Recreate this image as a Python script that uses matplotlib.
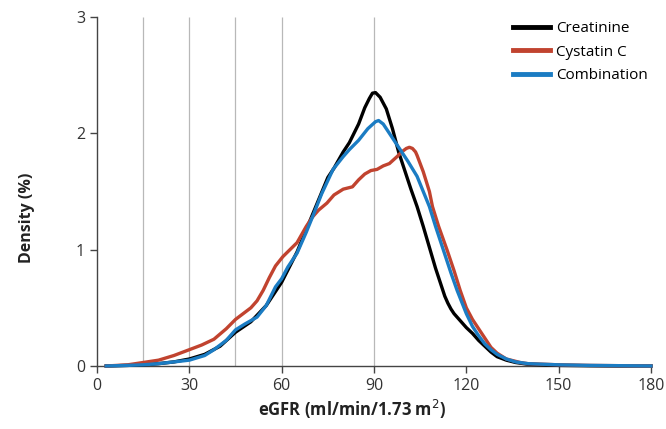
import matplotlib.pyplot as plt
import numpy as np

plt.rcParams['font.family'] = ['Open Sans', 'DejaVu Sans']

# eGFR density curves
x_cr = [3, 10, 15, 20, 25, 30, 35, 40, 45, 50, 55, 60, 65, 70, 75, 77, 80, 82, 85, 87, 88.5, 89.5,
        90.5, 92, 94, 96, 98, 100, 102, 104, 106, 108, 110, 112, 113, 114, 115, 116, 118, 120, 122,
        124, 126, 128, 130, 133, 136, 140, 150, 160, 170, 180]
d_cr = [0, 0.005, 0.01, 0.02, 0.035, 0.06, 0.10, 0.17, 0.29, 0.38, 0.52, 0.72, 0.98, 1.30, 1.62,
        1.70, 1.84, 1.92, 2.08, 2.22, 2.30, 2.345, 2.35, 2.31, 2.21, 2.04, 1.84, 1.68, 1.52, 1.37,
        1.20, 1.02, 0.84, 0.68, 0.60, 0.54, 0.49, 0.45, 0.39, 0.33, 0.28, 0.22, 0.17, 0.12, 0.08,
        0.05, 0.03, 0.015, 0.005, 0.002, 0.0, 0.0]

x_cy = [3, 10, 15, 20, 25, 30, 34, 38, 42, 45, 48, 50, 52, 54, 56, 58, 60.4, 62.7, 65, 68, 70, 72,
        74.7, 77, 80, 83, 85, 87, 89, 91, 93, 95, 97.5, 99, 100.5, 101.5, 102.5, 103.5, 104, 106,
        108, 109, 111, 113.7, 116, 118, 120, 122, 123.5, 126, 128, 130, 133, 137.5, 140, 150, 160,
        180]
d_cy = [0, 0.01, 0.03, 0.05, 0.09, 0.14, 0.18, 0.23, 0.32, 0.40, 0.46, 0.50, 0.56, 0.65, 0.76,
        0.86, 0.94, 1.0, 1.06, 1.20, 1.28, 1.34, 1.40, 1.47, 1.52, 1.54, 1.60, 1.65, 1.68, 1.69,
        1.72, 1.74, 1.80, 1.84, 1.87, 1.88, 1.87, 1.84, 1.81, 1.67, 1.50, 1.37, 1.20, 1.0, 0.82,
        0.65, 0.50, 0.40, 0.34, 0.24, 0.16, 0.11, 0.06, 0.03, 0.02, 0.01, 0.005, 0.0]

x_co = [3, 10, 15, 20, 25, 30, 35, 38, 42, 45, 48, 52, 55, 58, 60, 62, 65, 68, 70, 73, 76.7, 80,
        82, 85, 88, 90.5, 91.5, 93, 95, 98, 101, 104, 106, 108, 110, 112.5, 115, 117, 120, 122,
        124, 126, 128, 130, 133, 136, 140, 150, 160, 180]
d_co = [0, 0.005, 0.01, 0.02, 0.035, 0.05, 0.09, 0.14, 0.22, 0.31, 0.36, 0.42, 0.52, 0.68, 0.75,
        0.85, 0.97, 1.15, 1.28, 1.48, 1.69, 1.80, 1.86, 1.94, 2.04, 2.10, 2.11, 2.08, 2.00, 1.88,
        1.76, 1.63, 1.50, 1.37, 1.20, 1.0, 0.80, 0.65, 0.45, 0.34, 0.26, 0.19, 0.14, 0.10, 0.06,
        0.035, 0.02, 0.01, 0.005, 0.0]

grid_x = [15, 30, 45, 60, 90]
xticks = [0, 30, 60, 90, 120, 150, 180]
yticks = [0, 1, 2, 3]

fig = plt.figure(figsize=(6.66, 4.29), dpi=100)
ax = fig.add_axes([0.1456, 0.1469, 0.8319, 0.8135])

ax.vlines(grid_x, 0, 3, color='#b8b8b8', lw=0.9, zorder=1)

ax.plot(x_cr, d_cr, color='black', lw=2.4, label='Creatinine', clip_on=False, zorder=3)
ax.plot(x_cy, d_cy, color='#c1432f', lw=2.4, label='Cystatin C', clip_on=False, zorder=3)
ax.plot(x_co, d_co, color='#1b7cc3', lw=2.4, label='Combination', clip_on=False, zorder=4)

ax.set_xlim(0, 180)
ax.set_ylim(0, 3)
ax.set_xticks(xticks)
ax.set_yticks(yticks)

ax.spines['top'].set_visible(False)
ax.spines['right'].set_visible(False)
for s in ['left', 'bottom']:
    ax.spines[s].set_color('#444444')
    ax.spines[s].set_linewidth(1.0)
ax.tick_params(colors='#444444', labelcolor='#333333', labelsize=11.5, length=5, width=1.0)

ax.set_xlabel('eGFR (ml/min/1.73 m$^2$)', fontsize=12, fontweight='bold', color='#222222')
ax.set_ylabel('Density (%)', fontsize=11.5, fontweight='bold', color='#222222')
ax.xaxis.set_label_coords(0.46, -0.092)
ax.yaxis.set_label_coords(-0.112, 0.424)

leg = ax.legend(loc='upper right', frameon=False, fontsize=11, handlelength=2.4,
                handletextpad=0.4, borderaxespad=0.0, labelspacing=0.55,
                bbox_to_anchor=(1.005, 1.005))
for line in leg.get_lines():
    line.set_linewidth(3.5)

fig.savefig('out.png', dpi=100)
